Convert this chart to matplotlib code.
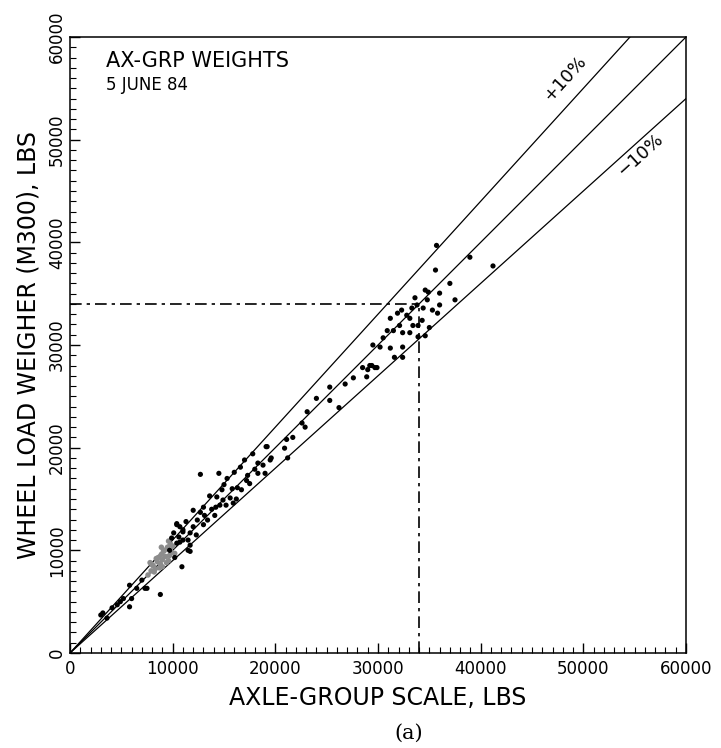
import numpy as np
import matplotlib.pyplot as plt
from matplotlib.ticker import MultipleLocator

# ------------------------------------------
# data (lbs)
# ------------------------------------------
scale_x = [3000, 3200, 3600, 4100, 4600, 4900, 5200, 5800, 6000, 6500, 7000,
           7300, 7500, 5800, 8800, 10200, 10900, 11700, 10400, 10100, 11000,
           11500, 10700, 11500, 9900, 11000, 11700, 10400, 9700, 12000, 12700,
           13100, 14100, 13400, 12400, 10400, 11000, 10700, 11700, 12000, 13600,
           14600, 15900, 14900, 15600, 14800, 16300, 16700, 17500, 15300, 12700,
           14500, 16600, 17300, 18300, 17800, 18300, 18800, 19500, 19100, 19000,
           19200, 19600, 20900, 21100, 21200, 21700, 22600, 22900, 23100, 25300,
           25300, 26200, 27600, 28900, 29000, 29200, 29700, 28500, 29400, 29900,
           29500, 30200, 31200, 32400, 31600, 32400, 30500, 30900, 31500, 32400,
           33100, 34600, 33900, 32100, 33400, 33900, 34300, 33100, 32800, 31200,
           31900, 32300, 33300, 33600, 33800, 34400, 35300, 36000, 35800, 35000,
           34800, 34600, 34900, 36000, 37000, 35600, 35700, 38950, 41200, 37500,
           13000, 13800, 14300, 15000, 15800, 16000, 17000, 17200, 18000, 12300,
           13000, 14200, 16200, 15200, 11300, 10600, 24000, 26800]
weigher_y = [3700, 3900, 3400, 4400, 4700, 5000, 5300, 4500, 5300, 6300, 7100,
             6300, 6300, 6600, 5700, 9300, 8400, 9900, 12600, 11700, 11800,
             11000, 10800, 10000, 11200, 11000, 10500, 10700, 10000, 13900, 13700,
             13400, 13400, 12950, 12950, 12500, 12000, 12300, 11700, 12300, 15300,
             14400, 14600, 14900, 15100, 15900, 16100, 15900, 16500, 17000, 17400,
             17500, 18100, 17300, 17500, 19400, 18500, 18300, 18800, 20100, 17500,
             20100, 19000, 19950, 20800, 19000, 21000, 22400, 22000, 23500, 25900,
             24600, 23900, 26800, 26900, 27600, 28000, 27800, 27800, 28000, 27800,
             30000, 29800, 29700, 29800, 28800, 28800, 30700, 31400, 31400, 31200,
             31200, 30900, 30800, 31900, 31900, 31900, 32400, 32600, 32900, 32600,
             33100, 33400, 33600, 34600, 33900, 33600, 33400, 33900, 33100, 31700,
             34400, 35350, 35150, 35050, 36000, 37300, 39700, 38550, 37700, 34400,
             14200, 14000, 15200, 16400, 16000, 17600, 18800, 16800, 17900, 11500,
             12500, 14200, 15000, 14400, 12800, 11300, 24800, 26200]

# smeared (grey) cluster around 8000-10000 lbs
grey_x = [7600, 7900, 8100, 8300, 8500, 8600, 8800, 8900, 9000, 9200, 9300,
          9500, 9600, 9800, 9900, 10000, 8200, 8700, 9100, 9400, 9700, 8000,
          8400, 9000, 9600, 7800, 10200, 8900]
grey_y = [7600, 8000, 8500, 8200, 8900, 9300, 8700, 9600, 9100, 10000, 9400,
          10300, 9000, 10600, 9800, 10400, 7900, 8300, 9900, 8800, 9500, 8600,
          9200, 8400, 10900, 8800, 9700, 10300]

ref_slopes = [1.1, 1.0, 0.9]
check_value = 34000
ticks = [0, 10000, 20000, 30000, 40000, 50000, 60000]

# ------------------------------------------
# figure
# ------------------------------------------
plt.rcParams['font.family'] = ['DejaVu Sans']
fig = plt.figure(figsize=(7.21, 7.48), dpi=100)
ax = fig.add_axes([70 / 721, 1 - 653 / 748, 616 / 721, 616 / 748])

line_x = np.array([0, 60000])
for k in ref_slopes:
    ax.plot(line_x, k * line_x, color='black', lw=0.9)

ax.plot([0, check_value], [check_value, check_value], color='black', lw=1.2,
        linestyle=(0, (7, 3, 2, 3)))
ax.plot([check_value, check_value], [0, check_value], color='black', lw=1.2,
        linestyle=(0, (7, 3, 2, 3)))

ax.scatter(grey_x, grey_y, s=16, color='0.55', edgecolors='none', zorder=3)
ax.scatter(scale_x, weigher_y, s=14, color='black', edgecolors='none', zorder=4)

ax.set_xlim(0, 60000)
ax.set_ylim(0, 60000)
ax.set_xticks(ticks)
ax.set_yticks(ticks)
ax.xaxis.set_minor_locator(MultipleLocator(1000))
ax.yaxis.set_minor_locator(MultipleLocator(1000))
ax.tick_params(which='major', direction='in', length=7, width=1, labelsize=12, pad=5)
ax.tick_params(axis='y', which='major', pad=3)
ax.tick_params(which='minor', direction='in', length=4, width=0.8)
ax.tick_params(top=False, right=False)
for lab in ax.get_yticklabels():
    lab.set_rotation(90)
    lab.set_va('center')
for sp in ax.spines.values():
    sp.set_linewidth(1.1)

ax.set_xlabel('AXLE-GROUP SCALE, LBS', fontsize=17, labelpad=6)
ax.set_ylabel('WHEEL LOAD WEIGHER (M300), LBS', fontsize=17, labelpad=5)

ax.text(3500, 57700, 'AX-GRP WEIGHTS', fontsize=15, va='center')
ax.text(3500, 55300, '5 JUNE 84', fontsize=12, va='center')

ax.text(48200, 56000, '+10%', fontsize=13, rotation=47.7, ha='center',
        va='center', rotation_mode='anchor')
ax.text(55500, 48500, '\u221210%', fontsize=13, rotation=42, ha='center',
        va='center', rotation_mode='anchor')

fig.text(409 / 721, 1 - 733 / 748, '(a)', fontsize=15, family='DejaVu Serif',
         ha='center', va='center')

fig.savefig('out.png', dpi=100)
